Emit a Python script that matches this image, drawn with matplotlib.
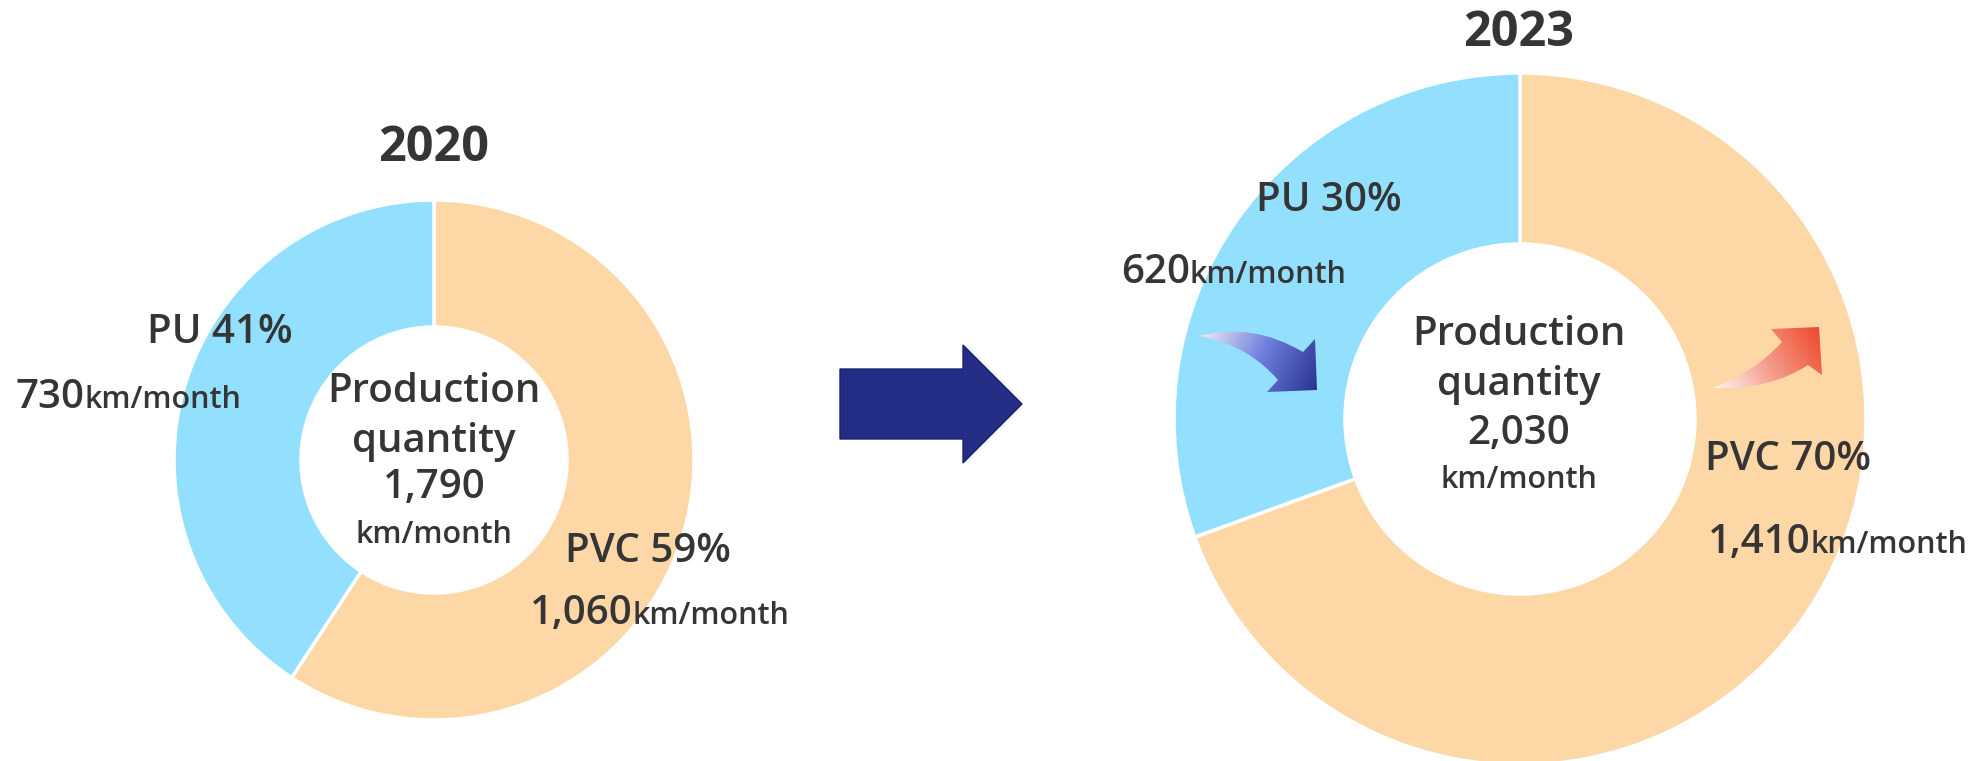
import matplotlib

matplotlib.use("Agg")
import matplotlib.pyplot as plt
import numpy as np
from matplotlib.colors import LinearSegmentedColormap
from matplotlib.patches import PathPatch, Polygon
from matplotlib.path import Path

# data
years = ["2020", "2023"]
pvc_km = [1060, 1410]
pu_km = [730, 620]
total_km = [1790, 2030]
pvc_pct = [59, 70]
pu_pct = [41, 30]

W, H = 1969, 761
PVC_COLOR = "#FDD7A6"
PU_COLOR = "#93E0FE"
TEXT = "#353535"
FONT = ["Open Sans", "DejaVu Sans"]
UNIT_SIZE = 22

plt.rcParams["font.family"] = FONT

fig = plt.figure(figsize=(W / 100, H / 100), dpi=100)
ax = fig.add_axes([0, 0, 1, 1])
ax.set_xlim(0, W)
ax.set_ylim(0, H)
renderer = fig.canvas.get_renderer()


def y(v):
    # pixel row (top-down) -> data y (bottom-up)
    return H - v


def label(x, yy, s, size, weight="semibold", ha="center"):
    ax.text(x, y(yy), s, fontsize=size, weight=weight, color=TEXT, ha=ha, va="baseline")


def value_label(x, yy, value):
    t = ax.text(x, y(yy), f"{value:,}", fontsize=29, weight="semibold", color=TEXT, ha="left", va="baseline")
    right = t.get_window_extent(renderer).x1  # axes span the whole figure, 1 px = 1 unit
    ax.text(right, y(yy), "km/month", fontsize=UNIT_SIZE, weight="semibold", color=TEXT,
            ha="left", va="baseline")


def gradient_arrow(points, codes, colors, start, end):
    verts = [(px, y(py)) for px, py in points]
    path = Path(verts, codes)
    patch = PathPatch(path, facecolor="none", edgecolor="none")
    ax.add_patch(patch)
    xs = [v[0] for v in verts]
    ys = [v[1] for v in verts]
    x0, x1, y0, y1 = min(xs), max(xs), min(ys), max(ys)
    gx, gy = np.meshgrid(np.linspace(x0, x1, 200), np.linspace(y0, y1, 200))
    sx, sy = start[0], y(start[1])
    ex, ey = end[0], y(end[1])
    dx, dy = ex - sx, ey - sy
    t = ((gx - sx) * dx + (gy - sy) * dy) / (dx * dx + dy * dy)
    cmap = LinearSegmentedColormap.from_list("g", colors)
    im = ax.imshow(np.clip(t, 0, 1), extent=(x0, x1, y0, y1), origin="lower",
                   cmap=cmap, vmin=0, vmax=1, interpolation="bilinear", zorder=3)
    im.set_clip_path(patch)


# donuts: (center x, center y, outer radius, inner radius) in pixels
donuts = [(434, 460, 260, 133), (1520, 419, 346, 175)]
for i, (cx, cy, r, r_in) in enumerate(donuts):
    ax.pie([pvc_km[i], pu_km[i]], colors=[PVC_COLOR, PU_COLOR], startangle=90,
           counterclock=False, center=(cx, y(cy)), radius=r,
           wedgeprops=dict(width=r - r_in, edgecolor="white", linewidth=2.5))
ax.set_xlim(0, W)
ax.set_ylim(0, H)

# years
label(434, 161, years[0], 35, weight="bold")
label(1519, 46, years[1], 35, weight="bold")

# 2020 labels
label(220, 343, f"PU {pu_pct[0]}%", 29)
value_label(15, 408, pu_km[0])
label(434, 402, "Production", 29)
label(434, 452, "quantity", 29)
label(434, 498, f"{total_km[0]:,}", 29)
label(434, 543, "km/month", UNIT_SIZE)
label(648, 562, f"PVC {pvc_pct[0]}%", 29)
value_label(530, 624, pvc_km[0])

# 2023 labels
label(1329, 211, f"PU {pu_pct[1]}%", 29)
value_label(1121, 283, pu_km[1])
label(1519, 345, "Production", 29)
label(1519, 395, "quantity", 29)
label(1519, 444, f"{total_km[1]:,}", 29)
label(1519, 488, "km/month", UNIT_SIZE)
label(1788, 470, f"PVC {pvc_pct[1]}%", 29)
value_label(1708, 553, pvc_km[1])

# big navy arrow between the years
arrow_pts = [(840, 369), (963, 369), (963, 345), (1022, 404), (963, 463), (963, 439), (840, 439)]
ax.add_patch(Polygon([(px, y(py)) for px, py in arrow_pts], closed=True,
                     facecolor="#232D85", edgecolor="#1B236E", linewidth=1, zorder=3))

# curved gradient arrows
C3, L = Path.CURVE3, Path.LINETO
gradient_arrow(
    [(1200, 336), (1252, 322), (1303, 352), (1315, 339), (1317, 390), (1267, 392),
     (1278, 380), (1248, 345), (1200, 336), (1200, 336)],
    [Path.MOVETO, C3, C3, L, L, L, L, C3, C3, Path.CLOSEPOLY],
    ["#ECEAF6", "#6E7EDC", "#2A3390"], (1200, 336), (1317, 390))
gradient_arrow(
    [(1712, 388), (1755, 372), (1782, 342), (1771, 329), (1819, 327), (1822, 375),
     (1808, 365), (1770, 390), (1712, 388), (1712, 388)],
    [Path.MOVETO, C3, C3, L, L, L, L, C3, C3, Path.CLOSEPOLY],
    ["#FFF8F5", "#F49A88", "#EE4A2C"], (1712, 388), (1819, 327))

ax.set_xlim(0, W)
ax.set_ylim(0, H)
ax.set_aspect("equal")
ax.axis("off")

fig.savefig("out.png", dpi=100, facecolor="white")
